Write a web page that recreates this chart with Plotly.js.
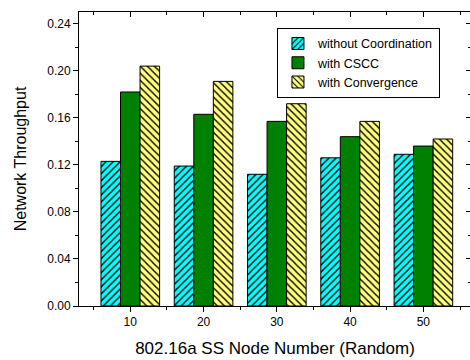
<!DOCTYPE html>
<html>
<head>
<meta charset="utf-8">
<script src="https://cdn.plot.ly/plotly-3.0.1.min.js"></script>
<style>
html, body { margin: 0; padding: 0; overflow: hidden; background: #fff; }
#chart { width: 480px; height: 360px; }
</style>
</head>
<body>
<div id="chart"></div>
<script>
var nodeNumbers = [10, 20, 30, 40, 50];
var seriesNames = ["without Coordination", "with CSCC", "with Convergence"];
var withoutCoordination = [0.123, 0.119, 0.112, 0.126, 0.129];
var withCSCC = [0.182, 0.163, 0.157, 0.144, 0.136];
var withConvergence = [0.204, 0.191, 0.172, 0.157, 0.142];
var xTitle = "802.16a SS Node Number (Random)";
var yTitle = "Network Throughput";

var FONT = "Liberation Sans, Arial, sans-serif";

var traces = [
  {
    type: "bar", name: seriesNames[0], x: nodeNumbers, y: withoutCoordination,
    marker: {
      color: "#00FFFF",
      line: { color: "#000", width: 1 },
      pattern: { shape: "/", bgcolor: "#00FFFF", fgcolor: "#000", size: 5, solidity: 0.28 }
    }
  },
  {
    type: "bar", name: seriesNames[1], x: nodeNumbers, y: withCSCC,
    marker: { color: "#008000", line: { color: "#000", width: 1 } }
  },
  {
    type: "bar", name: seriesNames[2], x: nodeNumbers, y: withConvergence,
    marker: {
      color: "#FFFF80",
      line: { color: "#000", width: 1 },
      pattern: { shape: "\\", bgcolor: "#FFFF80", fgcolor: "#000", size: 5, solidity: 0.28 }
    }
  },
  { type: "scatter", x: [], y: [], xaxis: "x2", yaxis: "y2", showlegend: false, hoverinfo: "skip" }
];

var xr = [3, 56.5];
var yr = [0, 0.25];

var layout = {
  width: 480, height: 360,
  margin: { l: 79, r: 9, t: 12, b: 54 },
  paper_bgcolor: "#fff", plot_bgcolor: "#fff",
  font: { family: FONT, color: "#000", size: 12 },
  barmode: "group", bargap: 0.2, bargroupgap: 0,
  showlegend: true,
  legend: {
    x: 0.505, y: 0.946, xanchor: "left", yanchor: "top",
    bgcolor: "#fff", bordercolor: "#000", borderwidth: 1,
    font: { family: FONT, size: 12.5, color: "#000" },
    tracegroupgap: 0, itemwidth: 30
  },
  xaxis: {
    range: xr, tickmode: "linear", tick0: 10, dtick: 10,
    ticks: "outside", ticklen: 5, tickcolor: "#000", tickwidth: 1,
    minor: { tickmode: "linear", tick0: 5, dtick: 10, ticks: "outside", ticklen: 3, tickcolor: "#000" },
    showline: true, linecolor: "#000", linewidth: 1,
    showgrid: false, zeroline: false,
    tickfont: { family: FONT, size: 12, color: "#000" },
    title: { text: xTitle, font: { family: FONT, size: 17, color: "#000" }, standoff: 13 }
  },
  yaxis: {
    range: yr, tickmode: "linear", tick0: 0, dtick: 0.04, tickformat: ".2f",
    ticks: "outside", ticklen: 5, tickcolor: "#000", tickwidth: 1,
    minor: { tickmode: "linear", tick0: 0.02, dtick: 0.04, ticks: "outside", ticklen: 3, tickcolor: "#000" },
    showline: true, linecolor: "#000", linewidth: 1,
    showgrid: false, zeroline: false,
    tickfont: { family: FONT, size: 12, color: "#000" },
    title: { text: yTitle, font: { family: FONT, size: 16, color: "#000" }, standoff: 16 }
  },
  xaxis2: {
    overlaying: "x", side: "top", anchor: "y2", range: xr,
    tickmode: "linear", tick0: 10, dtick: 10,
    ticks: "inside", ticklen: 5, tickcolor: "#000",
    minor: { tickmode: "linear", tick0: 5, dtick: 10, ticks: "inside", ticklen: 3, tickcolor: "#000" },
    showticklabels: false, showline: true, linecolor: "#000", linewidth: 1,
    showgrid: false, zeroline: false
  },
  yaxis2: {
    overlaying: "y", side: "right", anchor: "x2", range: yr,
    tickmode: "linear", tick0: 0, dtick: 0.04,
    ticks: "inside", ticklen: 5, tickcolor: "#000",
    minor: { tickmode: "linear", tick0: 0.02, dtick: 0.04, ticks: "inside", ticklen: 3, tickcolor: "#000" },
    showticklabels: false, showline: true, linecolor: "#000", linewidth: 1,
    showgrid: false, zeroline: false
  }
};

Plotly.newPlot("chart", traces, layout, { staticPlot: true, displayModeBar: false });
</script>
</body>
</html>
